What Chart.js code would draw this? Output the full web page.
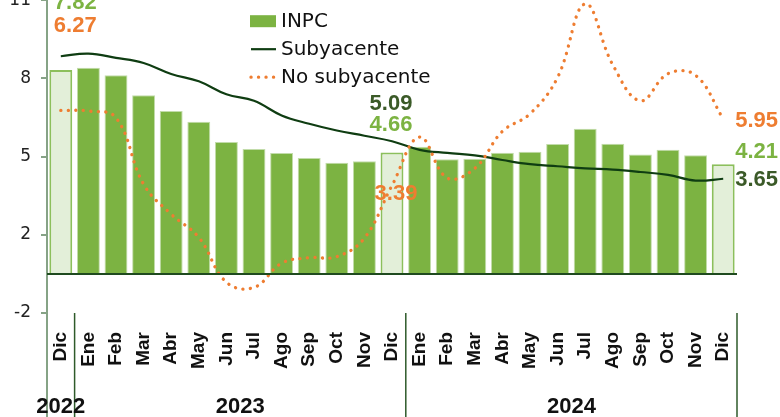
<!DOCTYPE html>
<html>
<head>
<meta charset="utf-8">
<script src="https://cdn.jsdelivr.net/npm/chart.js@4/dist/chart.umd.min.js"></script>
<style>
html,body{margin:0;padding:0;background:#fff;overflow:hidden;width:780px;height:417px}
#wrap{position:absolute;left:0;top:-20px;width:780px;height:437px}
</style>
</head>
<body>
<div id="wrap"><canvas id="inflChart" width="780" height="437"></canvas></div>
<script>
// categorias (mes) y grupos de año
const meses = ["Dic","Ene","Feb","Mar","Abr","May","Jun","Jul","Ago","Sep","Oct","Nov","Dic",
  "Ene","Feb","Mar","Abr","May","Jun","Jul","Ago","Sep","Oct","Nov","Dic"]
const years = ["2022","2023","2024"]
const yearStart = [0,1,13]
const yearEnd = [0,12,24]

// series (% anual)
const inpc = [7.82,7.91,7.62,6.85,6.25,5.84,5.06,4.79,4.64,4.45,4.26,4.32,4.66,
  4.88,4.40,4.42,4.65,4.69,4.98,5.57,4.99,4.58,4.76,4.55,4.21]
const subyacente = [8.35,8.45,8.29,8.09,7.67,7.39,6.89,6.64,6.08,5.76,5.50,5.30,5.09,
  4.76,4.64,4.55,4.37,4.21,4.13,4.05,4.00,3.91,3.80,3.58,3.65]
const noSubyacente = [6.27,6.25,5.99,3.44,2.29,1.40,-0.32,-0.52,0.41,0.62,0.66,1.37,3.39,
  5.25,3.68,4.05,5.47,6.14,7.54,10.36,8.02,6.64,7.68,7.62,5.95]

// eje y
const tickValues = [-1.5,1.5,4.5,7.5,10.5]
const tickLabels = ["-2","2","5","8","11"]

const GREEN = "#7cb342"
const DARK = "#0f3d12"
const ORANGE = "#ee7d31"
const LABEL_DARK = "#3b5a28"
const AXIS = "#86a386"

// etiquetas de valor: serie, indice, desplazamiento
const callouts = [
  {ds:0,i:0,dx:-7,dy:-67,align:"left"},
  {ds:2,i:0,dx:-7,dy:-85,align:"left"},
  {ds:1,i:12,dx:-1,dy:-37,align:"center"},
  {ds:0,i:12,dx:-1,dy:-27,align:"center"},
  {ds:2,i:12,dx:4,dy:8,align:"center"},
  {ds:2,i:24,dx:12,dy:2,align:"left"},
  {ds:0,i:24,dx:12,dy:-12,align:"left"},
  {ds:1,i:24,dx:12,dy:1,align:"left"}
]

const isDic = meses.map(m=>m==="Dic")

const extras = {
  id:"extras",
  afterDatasetsDraw(chart){
    const {ctx,chartArea:a,scales:{y}} = chart
    const y0 = y.getPixelForValue(0)
    ctx.save()
    ctx.strokeStyle = "#1f4a1f"
    ctx.lineWidth = 2
    ctx.beginPath()
    ctx.moveTo(a.left,y0)
    ctx.lineTo(a.right,y0)
    ctx.stroke()
    ctx.restore()
  },
  afterDraw(chart){
    const {ctx,chartArea:a,scales:{x,y}} = chart
    const step = x.getPixelForValue(1)-x.getPixelForValue(0)
    ctx.save()

    // eje y hasta abajo
    ctx.strokeStyle = AXIS
    ctx.lineWidth = 2
    ctx.beginPath()
    ctx.moveTo(a.left,a.bottom)
    ctx.lineTo(a.left,chart.height)
    ctx.stroke()

    // separadores y años
    ctx.strokeStyle = "#2e5a2a"
    ctx.lineWidth = 1.5
    ctx.fillStyle = "#111"
    ctx.font = "bold 22px 'Liberation Sans', Arial, sans-serif"
    ctx.textAlign = "center"
    ctx.textBaseline = "middle"
    years.forEach((yr,k)=>{
      const xe = x.getPixelForValue(yearEnd[k]) + step/2
      ctx.beginPath()
      ctx.moveTo(xe,a.bottom)
      ctx.lineTo(xe,chart.height)
      ctx.stroke()
      const xc = (x.getPixelForValue(yearStart[k]) + x.getPixelForValue(yearEnd[k]))/2
      ctx.fillText(yr,xc,chart.height-10)
    })

    // leyenda
    const lx = a.left + 203
    const ly = a.top + 21
    const gap = 28
    ctx.font = "20px 'DejaVu Sans', sans-serif"
    ctx.textAlign = "left"
    chart.data.datasets.forEach((d,k)=>{
      const cy = ly + k*gap
      if(d.type==="bar"){
        ctx.fillStyle = GREEN
        ctx.fillRect(lx,cy-6,26,12)
      }else{
        ctx.strokeStyle = d.borderColor
        ctx.lineWidth = d.borderWidth
        ctx.lineCap = d.borderCapStyle || "butt"
        ctx.setLineDash(d.borderDash || [])
        ctx.beginPath()
        ctx.moveTo(lx+1,cy)
        ctx.lineTo(lx+26,cy)
        ctx.stroke()
        ctx.setLineDash([])
      }
      ctx.fillStyle = "#111"
      ctx.fillText(d.label,lx+31,cy+1)
    })

    // etiquetas de valor
    ctx.font = "bold 22px 'Liberation Sans', Arial, sans-serif"
    const colors = [GREEN,LABEL_DARK,ORANGE]
    callouts.forEach(c=>{
      const v = chart.data.datasets[c.ds].data[c.i]
      ctx.fillStyle = colors[c.ds]
      ctx.textAlign = c.align
      ctx.fillText(v.toFixed(2),x.getPixelForValue(c.i)+c.dx,y.getPixelForValue(v)+c.dy)
    })
    ctx.restore()
  }
}

new Chart(
document.getElementById("inflChart"),
{
type:"bar",
data:{
labels:meses,
datasets:[
{
type:"bar",
label:"INPC",
data:inpc,
backgroundColor:isDic.map(d=>d ? "#e3efd9" : GREEN),
borderColor:isDic.map(d=>d ? "#8cbf5c" : "#c2dcaa"),
borderWidth:isDic.map(d=>d ? 2 : 1),
barPercentage:0.83,
categoryPercentage:1,
order:3
},
{
type:"line",
label:"Subyacente",
data:subyacente,
borderColor:DARK,
borderWidth:2.2,
pointRadius:0,
tension:0.4,
order:2
},
{
type:"line",
label:"No subyacente",
data:noSubyacente,
borderColor:ORANGE,
borderWidth:3.3,
borderDash:[0.1,7.4],
borderCapStyle:"round",
pointRadius:0,
tension:0.4,
order:1
}
]
},
options:{
responsive:false,
animation:false,
layout:{padding:{top:18,right:43,left:0,bottom:0}},
plugins:{
legend:{display:false},
tooltip:{enabled:false}
},
scales:{
x:{
grid:{display:false,drawTicks:false},
border:{display:false},
ticks:{
autoSkip:false,
minRotation:90,
maxRotation:90,
padding:19,
color:"#111",
font:{family:"'Liberation Sans', Arial, sans-serif",size:19,weight:"bold"}
},
afterFit(s){ s.height = 104 }
},
y:{
min:-1.5,
max:10.5,
afterBuildTicks(s){ s.ticks = tickValues.map(v=>({value:v})) },
grid:{drawOnChartArea:false,drawTicks:true,tickLength:6,color:AXIS,lineWidth:2},
border:{color:AXIS,width:2},
ticks:{
padding:10,
color:"#222",
font:{family:"'DejaVu Sans', sans-serif",size:17},
callback:(v,i)=>tickLabels[i]
},
afterFit(s){ s.width = 47 }
}
}
},
plugins:[extras]
}
)
</script>
</body>
</html>
